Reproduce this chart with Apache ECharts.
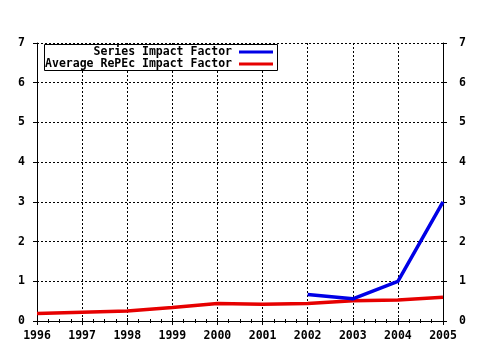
<!DOCTYPE html>
<html>
<head>
<meta charset="utf-8">
<script src="https://cdn.jsdelivr.net/npm/echarts@6/dist/echarts.min.js"></script>
<style>
  html, body { margin: 0; padding: 0; background: #fff; }
  #chart { width: 480px; height: 350px; }
</style>
</head>
<body>
<div id="chart"></div>
<script>
// Yearly impact factors
const years = [1996, 1997, 1998, 1999, 2000, 2001, 2002, 2003, 2004, 2005];
const seriesImpact = [null, null, null, null, null, null, 0.67, 0.56, 1.0, 3.0];
const averageImpact = [0.19, 0.22, 0.25, 0.34, 0.44, 0.42, 0.44, 0.51, 0.53, 0.60];
const yTicks = [0, 1, 2, 3, 4, 5, 6, 7];

const seriesName = 'Series Impact Factor';
const averageName = 'Average RePEc Impact Factor';

const FONT = 'DejaVu Sans Mono';
const labelStyle = { fontFamily: FONT, fontWeight: 'bold', fontSize: 11.5, color: '#000' };
const dotted = { show: true, lineStyle: { color: '#000', type: [2, 2], width: 1 } };
const axisLine = { show: true, lineStyle: { color: '#000', width: 1 } };

const toPairs = vals => years.map((y, i) => [y, vals[i]]);

const chart = echarts.init(document.getElementById('chart'), null, { renderer: 'canvas' });

const legendBase = {
  orient: 'vertical',
  align: 'right',
  padding: 0,
  icon: 'rect',
  itemWidth: 34,
  itemHeight: 3,
  selectedMode: false,
  textStyle: Object.assign({}, labelStyle, { lineHeight: 12, padding: [0, 2, 0, 0] }),
  z: 10
};

chart.setOption({
  animation: false,
  backgroundColor: '#fff',
  grid: { left: 37, right: 37, top: 43, bottom: 29, containLabel: false },
  xAxis: [
    {
      type: 'value', position: 'bottom', min: 1996, max: 2005, interval: 1,
      axisLine, axisTick: { show: true, length: 4, lineStyle: { color: '#000' } },
      minorTick: { show: true, splitNumber: 4, length: 2, lineStyle: { color: '#000' } },
      axisLabel: Object.assign({ margin: 9, formatter: v => String(v) }, labelStyle),
      splitLine: dotted
    },
    {
      type: 'value', position: 'top', min: 1996, max: 2005, interval: 1,
      axisLine, axisTick: { show: true, length: 3, lineStyle: { color: '#000' } },
      minorTick: { show: true, splitNumber: 4, length: 2, lineStyle: { color: '#000' } },
      axisLabel: { show: false }, splitLine: { show: false }
    }
  ],
  yAxis: [
    {
      type: 'value', position: 'left', min: yTicks[0], max: yTicks[yTicks.length - 1], interval: 1,
      axisLine, axisTick: { show: true, length: 4, lineStyle: { color: '#000' } },
      axisLabel: Object.assign({ margin: 12 }, labelStyle),
      splitLine: dotted
    },
    {
      type: 'value', position: 'right', min: yTicks[0], max: yTicks[yTicks.length - 1], interval: 1,
      axisLine, axisTick: { show: true, length: 4, lineStyle: { color: '#000' } },
      axisLabel: Object.assign({ margin: 16, align: 'left' }, labelStyle),
      splitLine: { show: false }
    }
  ],
  legend: [
    Object.assign({}, legendBase, { data: [seriesName], right: 207, top: 46 }),
    Object.assign({}, legendBase, { data: [averageName], right: 207, top: 58 })
  ],
  graphic: [
    {
      type: 'rect', z: 5,
      shape: { x: 44.5, y: 44.5, width: 233, height: 26 },
      style: { fill: '#fff', stroke: '#000', lineWidth: 1 }
    }
  ],
  series: [
    {
      name: seriesName, type: 'line', data: toPairs(seriesImpact),
      showSymbol: false, connectNulls: false,
      lineStyle: { color: '#0000e6', width: 3.5 }, itemStyle: { color: '#0000e6' },
      z: 3
    },
    {
      name: averageName, type: 'line', data: toPairs(averageImpact),
      showSymbol: false,
      lineStyle: { color: '#e60000', width: 3.5 }, itemStyle: { color: '#e60000' },
      z: 2
    }
  ]
});
</script>
</body>
</html>
